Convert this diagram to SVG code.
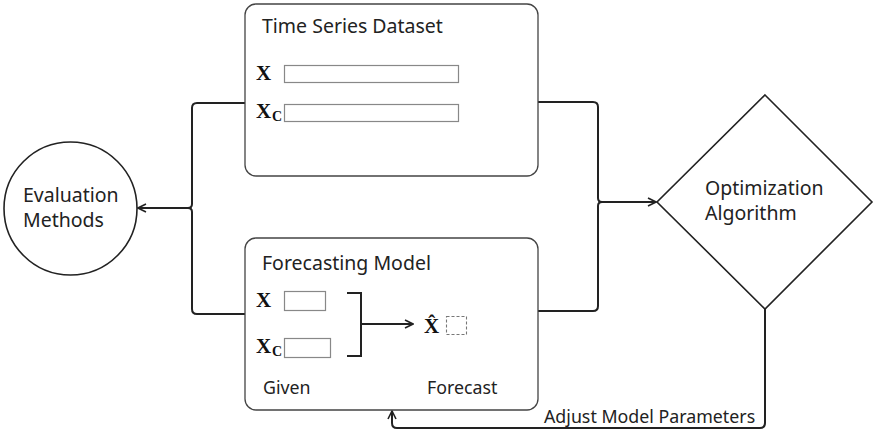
<svg xmlns="http://www.w3.org/2000/svg" width="876" height="434" viewBox="0 0 876 434">
<defs>
<style>
.lbl{font-family:"Noto Sans","Open Sans",sans-serif;font-size:19.5px;fill:#222}
.sm{font-family:"Noto Sans","Open Sans",sans-serif;font-size:17.8px;fill:#222}
.math{font-family:"Liberation Serif","DejaVu Serif",serif;font-weight:bold;font-size:21px;fill:#111}
.sub{font-family:"Liberation Serif","DejaVu Serif",serif;font-weight:bold;font-size:14px;fill:#111}
.box{fill:#fff;stroke:#444;stroke-width:1.3}
.field{fill:#fff;stroke:#888;stroke-width:1.2}
.edge{fill:none;stroke:#222;stroke-width:2}
</style>
<marker id="arr" viewBox="0 0 10 10" refX="9" refY="5" markerWidth="10" markerHeight="10" markerUnits="userSpaceOnUse" orient="auto">
<path d="M1,1 L9,5 L1,9" fill="none" stroke="#222" stroke-width="1.6"/>
</marker>
</defs>
<rect width="876" height="434" fill="#fff"/>
<g id="connectors">
<path class="edge" d="M245,103 H197 Q192,103 192,108 V204 Q192,208 188,208 H138" marker-end="url(#arr)"/>
<path class="edge" d="M245,314 H197 Q192,314 192,309 V212 Q192,208 188,208"/>
<path class="edge" d="M538,102 H593 Q598,102 598,107 V198 Q598,202 602,202 H656" marker-end="url(#arr)"/>
<path class="edge" d="M538,311 H593 Q598,311 598,306 V206 Q598,202 602,202"/>
<path class="edge" d="M765,309 V423 Q765,428 760,428 H397 Q392,428 392,423 V411" marker-end="url(#arr)"/>
<text class="sm" x="544" y="423">Adjust Model Parameters</text>
</g>
<g id="dataset">
<rect class="box" x="245" y="4" width="293" height="172" rx="11"/>
<text class="lbl" x="262" y="33">Time Series Dataset</text>
<text class="math" x="256" y="80">X</text>
<rect class="field" x="284.5" y="65.5" width="174" height="17"/>
<text class="math" x="256" y="118">X</text>
<text class="sub" x="272" y="121">C</text>
<rect class="field" x="284.5" y="104.5" width="174" height="17"/>
</g>
<g id="model">
<rect class="box" x="245" y="238" width="293" height="172" rx="11"/>
<text class="lbl" x="262" y="270">Forecasting Model</text>
<text class="math" x="256" y="307">X</text>
<rect class="field" x="284.5" y="291.5" width="41" height="19"/>
<text class="math" x="256" y="353">X</text>
<text class="sub" x="272" y="356">C</text>
<rect class="field" x="284.5" y="338.5" width="46" height="19"/>
<path d="M347,293 H361 V356 H347" fill="none" stroke="#222" stroke-width="2"/>
<path d="M361,324 H413" class="edge" marker-end="url(#arr)"/>
<text class="math" x="424" y="333" font-size="18">X̂</text>
<rect x="446.5" y="316.5" width="20" height="18" fill="none" stroke="#777" stroke-width="1.1" stroke-dasharray="3,2"/>
<text class="sm" x="263" y="394">Given</text>
<text class="sm" x="427" y="394">Forecast</text>
</g>
<g id="evaluation">
<circle cx="70.5" cy="208.5" r="66.5" fill="#fff" stroke="#222" stroke-width="1.6"/>
<text class="lbl" x="23" y="202">Evaluation</text>
<text class="lbl" x="23" y="227">Methods</text>
</g>
<g id="optimization">
<polygon points="765,95 872,202 765,309 657,202" fill="#fff" stroke="#222" stroke-width="1.6"/>
<text class="lbl" x="705" y="195">Optimization</text>
<text class="lbl" x="705" y="220">Algorithm</text>
</g>
</svg>
